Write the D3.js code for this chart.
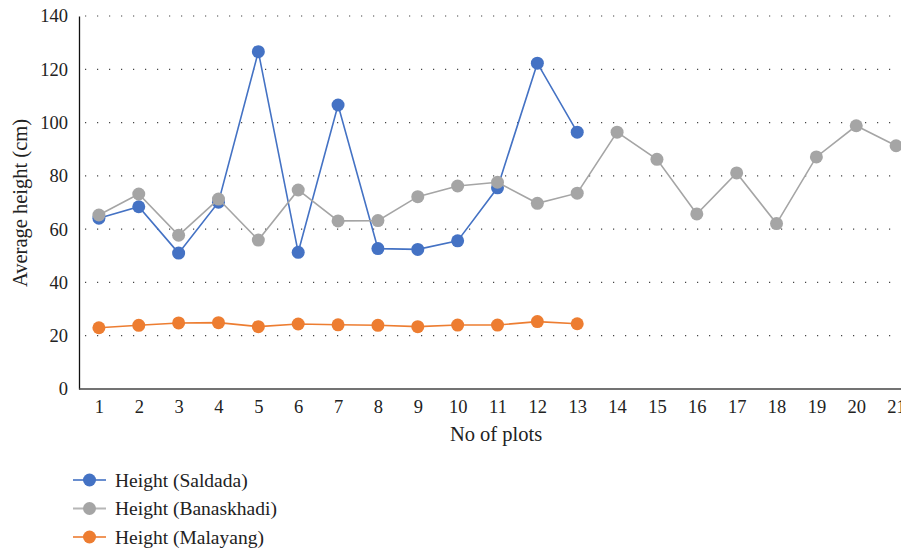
<!DOCTYPE html>
<html><head><meta charset="utf-8">
<script src="https://cdn.jsdelivr.net/npm/d3@7"></script>
<style>
html,body{margin:0;padding:0;background:#fff;overflow:hidden}
text{font-family:"Liberation Serif","DejaVu Serif",serif;fill:#222}
</style></head>
<body><svg id="c" width="901" height="554"></svg>
<script>
const plots = d3.range(1, 22).map(String);
const yTicks = [0, 20, 40, 60, 80, 100, 120, 140];
const seriesNames = ["Height (Saldada)", "Height (Banaskhadi)", "Height (Malayang)"];
const seriesColors = ["#4472C4", "#A5A5A5", "#ED7D31"];
const saldada = [64.1, 68.4, 51.0, 70.1, 126.6, 51.3, 106.6, 52.7, 52.4, 55.6, 75.5, 122.3, 96.4];
const banaskhadi = [65.3, 73.2, 57.7, 71.3, 55.9, 74.7, 63.1, 63.2, 72.2, 76.2, 77.6, 69.7, 73.5, 96.4, 86.2, 65.7, 81.1, 62.1, 87.1, 98.8, 91.3];
const malayang = [23.0, 23.9, 24.8, 24.9, 23.4, 24.4, 24.1, 23.9, 23.4, 24.0, 24.0, 25.3, 24.5];
const seriesValues = [saldada, banaskhadi, malayang];

const svg = d3.select("#c");
const mLeft = 79, mTop = 16, mBottom = 389, mRight = 916;
const x = d3.scalePoint().domain(plots).range([mLeft + 19.9, mRight - 19.9]);
const y = d3.scaleLinear().domain([0, 140]).range([mBottom, mTop]);

// gridlines
svg.append("g").selectAll("line").data(yTicks.filter(d => d > 0)).join("line")
  .attr("x1", mLeft + 6).attr("x2", 901)
  .attr("y1", d => y(d)).attr("y2", d => y(d))
  .attr("stroke", "#444").attr("stroke-width", 1.2)
  .attr("stroke-dasharray", "1.2,10.8");

// y axis
const ya = svg.append("g").attr("transform", `translate(${mLeft},0)`)
  .call(d3.axisLeft(y).tickValues(yTicks).tickSize(0).tickPadding(11));
ya.select(".domain").attr("stroke", "#111").attr("stroke-width", 1.3);
ya.selectAll("text").style("font-size", "18.5px").attr("fill", "#222");

// x axis
const xa = svg.append("g").attr("transform", `translate(0,${mBottom})`)
  .call(d3.axisBottom(x).tickSize(0).tickPadding(11));
xa.select(".domain").attr("d", `M${mLeft},0H901`).attr("stroke", "#444").attr("stroke-width", 1.4);
xa.selectAll("text").style("font-size", "18.5px").attr("fill", "#222");

// axis titles
svg.append("text").attr("x", 496).attr("y", 441).attr("text-anchor", "middle")
  .style("font-size", "20.5px").text("No of plots");
svg.append("text").attr("transform", "translate(27,203) rotate(-90)").attr("text-anchor", "middle")
  .style("font-size", "20.5px").text("Average height (cm)");

// series
const line = d3.line().x((d, i) => x(plots[i])).y(d => y(d));
seriesValues.forEach((vals, si) => {
  const g = svg.append("g");
  g.append("path").datum(vals).attr("d", line).attr("fill", "none")
    .attr("stroke", seriesColors[si]).attr("stroke-width", 1.6);
  g.selectAll("circle").data(vals).join("circle")
    .attr("cx", (d, i) => x(plots[i])).attr("cy", d => y(d)).attr("r", 6.5)
    .attr("fill", seriesColors[si]);
});

// legend
const lg = svg.append("g");
seriesNames.forEach((n, i) => {
  const yy = 480 + i * 28.5;
  lg.append("line").attr("x1", 73).attr("x2", 106).attr("y1", yy).attr("y2", yy)
    .attr("stroke", seriesColors[i]).attr("stroke-width", 1.8).attr("opacity", 0.8);
  lg.append("circle").attr("cx", 89.5).attr("cy", yy).attr("r", 6.5).attr("fill", seriesColors[i]);
  lg.append("text").attr("x", 115).attr("y", yy + 6.5).style("font-size", "19.5px").text(n);
});
</script></body></html>
